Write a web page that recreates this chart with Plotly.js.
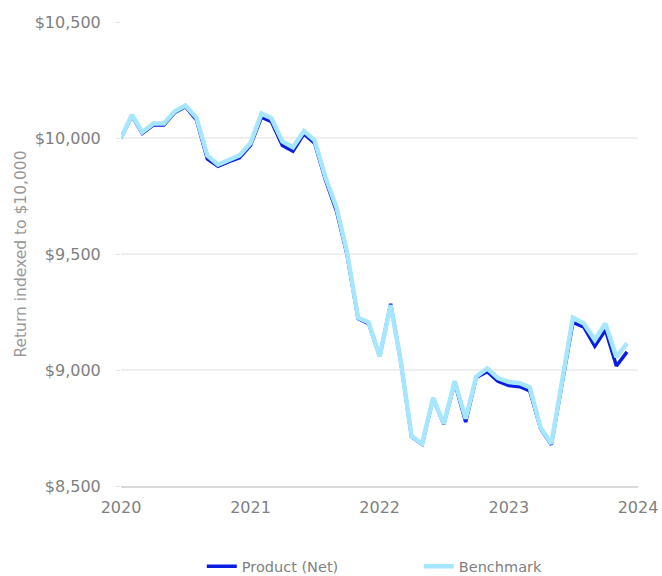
<!DOCTYPE html>
<html>
<head>
<meta charset="utf-8">
<script src="https://cdn.plot.ly/plotly-3.0.1.min.js"></script>
<style>html,body{margin:0;padding:0;background:#fff;}#chart{width:662px;height:576px;}</style>
</head>
<body>
<div id="chart"></div>
<script>
const months = [];
for (let y = 2020; y <= 2023; y++) {
  for (let m = 1; m <= 12; m++) months.push(y + '-' + String(m).padStart(2, '0') + '-01');
}
const productNet = [
  10000, 10095, 10020, 10056, 10056, 10110, 10135, 10078, 9910, 9878, 9898, 9915,
  9968, 10090, 10070, 9968, 9943, 10018, 9978, 9818, 9685, 9495, 9222, 9200,
  9058, 9285, 9042, 8712, 8680, 8878, 8766, 8945, 8776, 8968, 8993, 8952,
  8933, 8928, 8910, 8746, 8678, 8940, 9205, 9185, 9103, 9172, 9017, 9078
];
const benchmark = [
  10000, 10100, 10025, 10062, 10062, 10115, 10140, 10088, 9925, 9885, 9905, 9925,
  9978, 10105, 10085, 9985, 9960, 10030, 9990, 9830, 9700, 9505, 9225, 9205,
  9058, 9280, 9045, 8715, 8682, 8880, 8768, 8952, 8790, 8972, 9007, 8965,
  8948, 8943, 8925, 8750, 8682, 8950, 9225, 9200, 9130, 9200, 9056, 9115
];
const yTickVals = [8500, 9000, 9500, 10000, 10500];
const yTickText = ['$8,500', '$9,000', '$9,500', '$10,000', '$10,500'];
const seriesNames = ['Product (Net)', 'Benchmark'];

const font = '"DejaVu Sans", sans-serif';
const traces = [
  {x: months, y: productNet, name: seriesNames[0], type: 'scatter', mode: 'lines',
   line: {color: '#0A1EE0', width: 3.5}},
  {x: months, y: benchmark, name: seriesNames[1], type: 'scatter', mode: 'lines',
   line: {color: '#A6E6FF', width: 4.5}}
];
const layout = {
  width: 662, height: 576,
  margin: {l: 121, r: 24, t: 22, b: 90},
  paper_bgcolor: '#ffffff', plot_bgcolor: '#ffffff',
  font: {family: font, size: 15, color: '#7f7f7f'},
  showlegend: true,
  legend: {orientation: 'h', x: 0.576, xanchor: 'center', xref: 'paper',
           y: 0.017, yanchor: 'middle', yref: 'container',
           entrywidth: 172, entrywidthmode: 'pixels',
           font: {size: 14.5, color: '#7f7f7f'}},
  xaxis: {
    type: 'date', range: ['2020-01-01', '2024-01-01'],
    tickformat: '%Y', dtick: 'M12', tick0: '2020-01-01',
    showgrid: false, zeroline: false,
    showline: true, linecolor: '#d9d9d9', linewidth: 1.5,
    ticks: '', ticklabelstandoff: 6, tickfont: {size: 16, color: '#7f7f7f'}
  },
  yaxis: {
    range: [8500, 10500], tickvals: yTickVals, ticktext: yTickText,
    showgrid: true, gridcolor: '#efefef', gridwidth: 1.5, zeroline: false,
    ticks: 'outside', ticklen: 4, tickcolor: '#e6e6e6', ticklabelstandoff: 12,
    tickfont: {size: 16, color: '#7f7f7f'},
    title: {text: 'Return indexed to $10,000', font: {size: 15.5, color: '#999999'}, standoff: 4}
  }
};
Plotly.newPlot('chart', traces, layout, {displayModeBar: false, staticPlot: true});
</script>
</body>
</html>
